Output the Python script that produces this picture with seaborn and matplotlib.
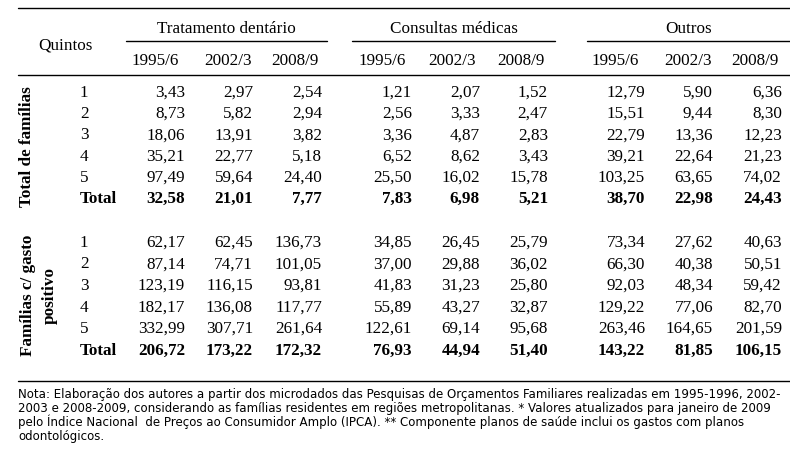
import seaborn as sns
import matplotlib.pyplot as plt
import pandas as pd
from matplotlib import font_manager

# Table contents
groups = ["Tratamento dentário", "Consultas médicas", "Outros"]
periods = ["1995/6", "2002/3", "2008/9"]
quintos = ["1", "2", "3", "4", "5", "Total"]
blocks = ["Total de famílias", "Famílias c/ gasto\npositivo"]

# Total de famílias (one list per period)
total_trat = [[3.43, 8.73, 18.06, 35.21, 97.49, 32.58],
              [2.97, 5.82, 13.91, 22.77, 59.64, 21.01],
              [2.54, 2.94, 3.82, 5.18, 24.40, 7.77]]
total_cons = [[1.21, 2.56, 3.36, 6.52, 25.50, 7.83],
              [2.07, 3.33, 4.87, 8.62, 16.02, 6.98],
              [1.52, 2.47, 2.83, 3.43, 15.78, 5.21]]
total_outr = [[12.79, 15.51, 22.79, 39.21, 103.25, 38.70],
              [5.90, 9.44, 13.36, 22.64, 63.65, 22.98],
              [6.36, 8.30, 12.23, 21.23, 74.02, 24.43]]

# Famílias com gasto positivo
pos_trat = [[62.17, 87.14, 123.19, 182.17, 332.99, 206.72],
            [62.45, 74.71, 116.15, 136.08, 307.71, 173.22],
            [136.73, 101.05, 93.81, 117.77, 261.64, 172.32]]
pos_cons = [[34.85, 37.00, 41.83, 55.89, 122.61, 76.93],
            [26.45, 29.88, 31.23, 43.27, 69.14, 44.94],
            [25.79, 36.02, 25.80, 32.87, 95.68, 51.40]]
pos_outr = [[73.34, 66.30, 92.03, 129.22, 263.46, 143.22],
            [27.62, 40.38, 48.34, 77.06, 164.65, 81.85],
            [40.63, 50.51, 59.42, 82.70, 201.59, 106.15]]

note_lines = [
    "Nota: Elaboração dos autores a partir dos microdados das Pesquisas de Orçamentos Familiares realizadas em 1995-1996, 2002-",
    "2003 e 2008-2009, considerando as famílias residentes em regiões metropolitanas. * Valores atualizados para janeiro de 2009",
    "pelo Índice Nacional  de Preços ao Consumidor Amplo (IPCA). ** Componente planos de saúde inclui os gastos com planos",
    "odontológicos.",
]

# Long table
rows = []
for b, block in enumerate([[total_trat, total_cons, total_outr], [pos_trat, pos_cons, pos_outr]]):
    for g, series in enumerate(block):
        for p, vals in enumerate(series):
            for q, v in enumerate(vals):
                rows.append([b, g, p, q, v])
df = pd.DataFrame(rows, columns=["block", "group", "period", "quinto", "value"])

sns.set_theme(style="white")
plt.rcParams["font.family"] = ["Liberation Serif", "DejaVu Serif"]
plt.rcParams["text.color"] = "black"


def narrow_font():
    # look for a condensed sans for the note, else plain sans
    for f in font_manager.fontManager.ttflist:
        nm = f.name.lower()
        if ("narrow" in nm or "condensed" in nm or "condensed" in str(f.stretch)) \
                and f.style == "normal" and f.weight in (400, "normal"):
            return font_manager.FontProperties(fname=f.fname)
    return font_manager.FontProperties(family="Liberation Sans")


fig = plt.figure(figsize=(7.9, 4.59), dpi=100)
ax = fig.add_axes([0, 0, 1, 1])
ax.set_xlim(0, 790)
ax.set_ylim(459, 0)
ax.axis("off")

fs = 12.3
col_right = [[185, 253, 322], [412, 480, 548], [645, 713, 782]]
head_center = [[155, 228, 295], [382, 452, 521], [615, 688, 755]]
group_span = [(126, 327), (352, 555), (587, 790)]
row_base = [[96.7 + 21.3 * i for i in range(6)], [246.7 + 21.6 * i for i in range(6)]]

# rules
lw = 1.0
ax.plot([18, 790], [8, 8], color="black", lw=lw)
ax.plot([18, 790], [75, 75], color="black", lw=lw)
ax.plot([18, 790], [381, 381], color="black", lw=lw)

# headers
ax.text(38, 49, "Quintos", fontsize=fs, ha="left", va="baseline")
for g, name in enumerate(groups):
    x0, x1 = group_span[g]
    ax.plot([x0, x1], [41, 41], color="black", lw=lw)
    ax.text((x0 + x1) / 2, 33, name, fontsize=fs, ha="center", va="baseline")
    for p, per in enumerate(periods):
        ax.text(head_center[g][p], 65, per, fontsize=fs, ha="center", va="baseline")

# block labels
ax.text(27, 147, blocks[0], fontsize=fs, fontweight="bold", rotation=90,
        ha="center", va="center")
ax.text(39, 295, blocks[1], fontsize=fs, fontweight="bold", rotation=90,
        ha="center", va="center", multialignment="center", linespacing=1.45)

# quintile labels
for b in range(2):
    for q, lab in enumerate(quintos):
        ax.text(80, row_base[b][q], lab, fontsize=fs, ha="left", va="baseline",
                fontweight="bold" if lab == "Total" else "normal")

# values
for _, r in df.iterrows():
    b, g, p, q = int(r.block), int(r.group), int(r.period), int(r.quinto)
    txt = f"{r.value:.2f}".replace(".", ",")
    ax.text(col_right[g][p], row_base[b][q], txt, fontsize=fs, ha="right",
            va="baseline", fontweight="bold" if q == 5 else "normal")

# note: fit the first line to the width it has in the source
fp = narrow_font()
notes = []
for i, line in enumerate(note_lines):
    notes.append(ax.text(18, 398 + 14.1 * i, line, fontproperties=fp,
                         fontsize=10, ha="left", va="baseline"))
fig.canvas.draw()
w = notes[0].get_window_extent().width
nfs = 10 * 757 / w
for t in notes:
    t.set_fontsize(nfs)

plt.savefig("out.png", dpi=100, facecolor="white")
